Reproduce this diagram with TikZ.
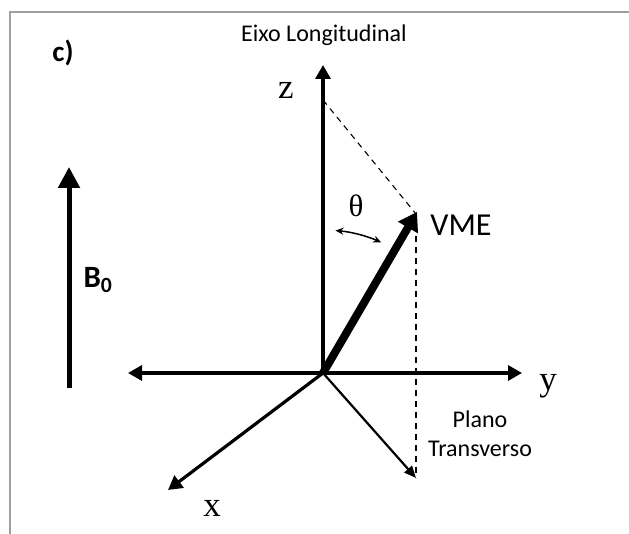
\documentclass[tikz,border=0pt]{standalone}
\usepackage{fontspec}
\setmainfont{Liberation Serif}
\newfontfamily\carl{Carlito}
\usetikzlibrary{arrows.meta,calc}
\begin{document}
\begin{tikzpicture}[x=1pt,y=1pt,
  axisarrow/.style={line width=3.2pt,-{Triangle[length=14pt,width=15pt]}},
  bothaxis/.style={line width=3.2pt,{Triangle[length=14pt,width=15pt]}-{Triangle[length=14pt,width=15pt]}},
  thinarrow/.style={line width=2.2pt,-{Triangle[length=12pt,width=10pt]}},
  vmearrow/.style={line width=8pt,-{Triangle[length=18pt,width=22pt]}},
  barrow/.style={line width=5pt,-{Triangle[length=21pt,width=21pt]}},
  dashline/.style={line width=1.1pt,dash pattern=on 6pt off 5pt},
  anglearrow/.style={line width=1.5pt,{Stealth[length=8pt,width=7pt]}-{Stealth[length=8pt,width=7pt]}},
  axislabel/.style={inner sep=0pt,font=\fontsize{35}{37}\selectfont},
  sanslabel/.style={inner sep=0pt,font=\carl\fontsize{24}{26}\selectfont}]
\useasboundingbox (0,0) rectangle (629,534);
\fill[white] (0,0) rectangle (629,534);
\draw[gray!75, line width=1.8pt] (10,-2) -- (10,522) -- (632,522);

% coordinates
\coordinate (O) at (323,161);
\coordinate (ztip) at (323,469);
\coordinate (yleft) at (128,161);
\coordinate (yright) at (522,161);
\coordinate (xtip) at (168,44);
\coordinate (ptip) at (416,56);
\coordinate (vtip) at (417,322);
\coordinate (zpt) at (323,434);
\coordinate (vtop) at (416,320);
\coordinate (bbot) at (69,146);
\coordinate (btop) at (69,367);
\coordinate (a1) at ($(O)+(85:143)$);

% axes
\draw[axisarrow] (O) -- (ztip);
\draw[bothaxis] (yleft) -- (yright);
\draw[axisarrow] (O) -- (xtip);
\draw[thinarrow] (O) -- (ptip);
\draw[dashline] (zpt) -- (vtop);
\draw[dashline] (vtop) -- (ptip);
\draw[vmearrow] (O) -- (vtip);
\draw[barrow] (bbot) -- (btop);
\draw[anglearrow] (a1) arc[start angle=85,end angle=66,radius=143];

% labels
\node[axislabel] (zlab) at (286,444) {z};
\node[axislabel] (ylab) at (548,148) {y};
\node[axislabel] (xlab) at (212,26) {x};
\node[inner sep=0pt,font=\fontsize{31}{33}\selectfont] (theta) at (356,328) {θ};
\node[inner sep=0pt,font=\carl\fontsize{32}{34}\selectfont] (vme) at (461,309) {VME};
\node[sanslabel] (eixo) at (324,499) {Eixo Longitudinal};
\node[sanslabel,anchor=base] (plano) at (480,106) {Plano};
\node[sanslabel,anchor=base] (transv) at (480,77) {Transverso};
\node[inner sep=0pt,font=\carl\bfseries\fontsize{31}{33}\selectfont] (b0) at (98,254) {B\textsubscript{0}};
\node[inner sep=0pt,font=\carl\bfseries\fontsize{29}{31}\selectfont] (clab) at (63,481) {c)};
\end{tikzpicture}
\end{document}
